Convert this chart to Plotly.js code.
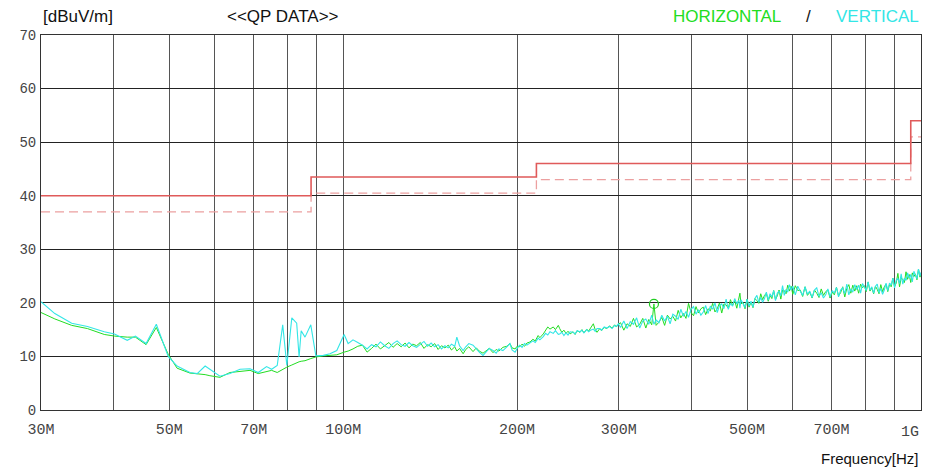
<!DOCTYPE html>
<html>
<head>
<meta charset="utf-8">
<script src="https://cdn.plot.ly/plotly-3.0.1.min.js"></script>
<style>
html,body{margin:0;padding:0;background:#fff;}
#chart{width:925px;height:472px;}
</style>
</head>
<body>
<div id="chart"></div>
<script>
// Frequencies in MHz
const freqMHz = [
 30, 31.7, 33.9, 36.1, 38.6, 40.2, 42.3, 43.7, 45.6, 47.5,
 49.8, 51.6, 54.3, 55.9, 57.7, 58.8, 61.2, 63.7, 66.3, 69.0,
 71.3, 73.7, 75.2, 76.9, 78.6, 79.9, 81.5, 83.1, 83.9, 84.6,
 85.9, 87.9, 89.7, 92.4, 94.9, 97.5, 100.4, 102.0,
 104, 106, 108, 110, 112, 114, 116, 118, 120, 122,
 124, 126, 128, 130, 132, 134, 136, 138, 140, 142,
 144, 146, 148, 150, 152, 154, 156, 157.3, 159, 161.3,
 163, 165, 167.8, 170, 172, 174.6, 177, 179, 181.7, 184,
 186, 189, 192, 194.4, 196, 198.4, 200,
 202, 204, 206, 208, 210.6, 213, 215, 217.5, 219, 222,
 224, 226, 228, 231, 233, 235.7, 237, 239, 241, 243,
 245, 247, 250, 252, 254, 257, 259, 261, 264, 266,
 268, 271, 273, 275, 278, 280, 283, 286, 289, 292,
 295, 297, 299.5,
 302, 306, 310, 314, 318, 322, 326, 330, 334, 338,
 342, 345, 348, 352, 356, 360, 364, 368, 372, 376,
 380, 384, 388, 392, 396, 400, 404, 408, 412, 416,
 420, 424, 428, 432, 436, 440, 444, 448, 452, 456,
 460, 464, 468, 472, 476, 480, 484, 486, 488, 492,
 496, 500, 504, 508, 512, 516, 520, 524, 528, 532,
 536, 540, 544, 548, 552, 556, 560, 564, 568, 572,
 576, 580, 584, 588, 592, 596, 600, 606, 612, 618,
 624, 630, 636, 642, 648, 654, 660, 666, 672, 678,
 684, 690, 696, 702, 708, 714, 720, 726, 732, 738,
 744, 750, 756, 762, 768, 774, 780, 786, 792, 798,
 804, 810, 816, 822, 828, 834, 840, 846, 852, 858,
 864, 870, 876, 882, 888, 894, 900, 906, 912, 918,
 924, 930, 936, 942, 948, 954, 960, 966, 972, 978,
 984, 990, 996, 1000
];
// HORIZONTAL (green) levels, dBuV/m
const horizontal = [
 18.2, 17.0, 15.8, 15.2, 14.1, 13.8, 13.6, 13.6, 12.2, 15.4,
 10.4, 7.8, 6.9, 6.8, 6.6, 6.4, 6.1, 7.0, 7.2, 7.4,
 6.8, 7.2, 7.4, 7.0, 7.6, 8.0, 8.4, 8.9, 9.0, 9.1,
 9.2, 9.6, 9.9, 10.1, 10.2, 10.3, 10.8, 11.0,
 11.4, 11.9, 12.1, 10.8, 11.5, 12.3, 11.4, 12.0, 12.6, 11.7,
 12.4, 11.8, 12.5, 11.6, 12.3, 12.0, 12.6, 11.5, 12.2, 11.8,
 12.4, 11.3, 12.0, 11.6, 12.1, 11.2, 11.8, 11.0, 11.5, 10.5,
 11.3, 11.8, 10.9, 11.6, 11.0, 10.6, 11.1, 11.5, 10.7, 11.3,
 11.0, 11.7, 11.9, 12.4, 11.6, 11.4, 11.9,
 11.8, 12.3, 11.9, 12.5, 12.7, 13.2, 12.9, 13.9, 13.5, 14.2,
 14.8, 15.5, 15.1, 15.5, 15.0, 15.8, 15.2, 14.5, 14.9, 14.3,
 14.7, 14.2, 14.6, 14.1, 14.8, 14.5, 15.0, 14.4, 15.1, 14.7,
 15.3, 16.1, 15.0, 14.5, 15.2, 14.8, 15.4, 15.2, 15.7, 15.3,
 15.9, 15.5, 16.0,
 16.3, 14.9, 16.1, 15.6, 17.1, 15.5, 16.0, 17.1, 15.3, 16.9,
 15.9, 19.8, 15.8, 16.4, 17.3, 15.8, 17.7, 17.0, 17.5, 16.6,
 18.6, 17.2, 18.0, 17.1, 19.9, 18.2, 17.6, 19.3, 18.1, 18.9,
 19.2, 17.8, 18.9, 18.5, 19.9, 18.3, 18.9, 20.0, 18.1, 19.8,
 19.6, 19.0, 20.6, 19.5, 20.4, 19.0, 20.7, 21.8, 19.8, 20.1,
 18.9, 20.7, 19.2, 20.1, 19.1, 20.8, 20.4, 19.9, 21.7, 20.6,
 21.4, 21.8, 20.3, 21.4, 20.8, 22.3, 20.6, 21.3, 22.4, 20.7,
 22.4, 22.3, 21.7, 23.3, 22.2, 23.1, 21.6, 23.2, 22.3, 22.4,
 21.2, 23.0, 21.4, 22.0, 20.9, 22.4, 21.8, 21.0, 22.6, 21.4,
 22.1, 22.4, 20.9, 22.0, 21.5, 22.9, 21.3, 21.9, 23.0, 21.1,
 22.7, 23.4, 21.8, 23.3, 22.2, 23.2, 21.8, 23.5, 22.8, 23.2,
 22.1, 23.9, 22.2, 22.8, 21.7, 23.1, 22.5, 21.7, 23.4, 22.1,
 23.0, 23.5, 22.1, 23.4, 23.0, 24.6, 23.0, 23.7, 25.5, 23.0,
 24.6, 24.4, 23.8, 25.8, 24.4, 25.3, 23.8, 25.6, 24.9, 25.4,
 24.3, 26.3, 24.8, 25.5
];
// VERTICAL (cyan) levels, dBuV/m
const vertical = [
 20.2, 18.0, 16.2, 15.6, 14.6, 14.2, 13.0, 13.8, 12.4, 16.0,
 10.0, 8.2, 7.0, 6.8, 8.2, 7.6, 6.3, 6.8, 7.6, 7.7,
 7.0, 8.1, 7.6, 8.3, 15.9, 8.3, 17.2, 16.2, 9.9, 14.8,
 13.6, 15.9, 10.1, 10.2, 10.5, 11.1, 14.1, 12.4,
 13.1, 12.6, 12.1, 11.4, 12.2, 11.8, 12.7, 12.0, 11.5, 12.4,
 12.9, 12.2, 11.9, 12.6, 12.0, 11.7, 12.3, 12.8, 11.9, 12.5,
 11.8, 12.2, 11.4, 12.0, 11.6, 12.3, 11.9, 13.6, 12.0, 11.1,
 11.8, 12.4, 12.1, 11.3, 10.8, 10.2, 11.0, 11.5, 11.1, 10.6,
 11.4, 11.1, 11.8, 12.4, 11.2, 10.8, 11.5,
 12.1, 11.7, 12.4, 12.1, 12.6, 12.9, 12.6, 13.4, 13.1, 13.7,
 14.3, 14.0, 14.6, 14.3, 14.8, 14.1, 14.2, 14.5, 13.9, 14.4,
 14.0, 14.6, 14.5, 14.2, 14.8, 14.6, 14.9, 14.4, 15.0, 14.6,
 14.9, 15.1, 14.7, 15.2, 15.2, 14.9, 15.5, 15.3, 15.6, 15.2,
 15.8, 15.6, 16.1,
 15.4, 16.6, 15.2, 16.5, 16.0, 17.2, 15.3, 16.6, 17.0, 16.0,
 17.7, 16.0, 16.8, 16.3, 17.7, 16.6, 17.5, 16.1, 17.9, 17.5,
 16.9, 18.8, 17.5, 18.4, 17.3, 18.8, 19.3, 17.9, 18.7, 17.7,
 18.3, 19.5, 18.0, 19.4, 18.8, 20.0, 18.2, 19.5, 19.8, 18.9,
 20.7, 18.8, 19.9, 19.4, 20.8, 19.8, 20.5, 19.0, 20.6, 19.9,
 19.1, 20.7, 19.4, 20.3, 19.2, 20.8, 21.4, 20.1, 21.0, 20.1,
 20.8, 22.0, 20.5, 21.7, 21.1, 22.3, 20.4, 21.8, 22.2, 21.3,
 23.2, 21.4, 22.5, 22.0, 23.4, 22.4, 23.1, 21.5, 23.1, 22.2,
 21.4, 23.0, 21.6, 22.2, 21.0, 22.4, 22.8, 21.2, 21.9, 20.9,
 21.5, 22.6, 21.1, 22.3, 21.8, 22.9, 21.1, 22.4, 22.8, 21.7,
 23.5, 21.5, 22.6, 22.0, 23.4, 22.5, 23.3, 21.8, 23.6, 23.0,
 22.3, 23.9, 22.4, 23.0, 21.8, 23.1, 23.5, 21.9, 22.7, 21.6,
 22.4, 23.7, 22.3, 23.7, 23.3, 24.6, 22.8, 24.2, 24.6, 23.6,
 25.4, 23.5, 24.6, 24.2, 25.6, 24.6, 25.3, 23.9, 25.9, 25.2,
 24.5, 26.3, 25.0, 25.7
];
// Limit lines
const limitFreqMHz = [30, 88, 216, 960, 1000];
const qpLimit = [40, 43.5, 46, 54, 54];
const qpMargin = [37, 40.5, 43, 51, 51];
// QP marker
const qpMarkerFreq = [345];
const qpMarkerLevel = [19.8];
// Axis ticks (the last label "1G" is placed flush with the right edge below)
const xTickVals = [30, 40, 50, 60, 70, 80, 90, 100, 200, 300, 400, 500, 600, 700, 800, 900, 1000];
const xTickText = ['30M', '', '50M', '', '70M', '', '', '100M', '200M', '300M', '', '500M', '', '700M', '', '', ''];
const lastTickLabel = '1G';
const yTickVals = [0, 10, 20, 30, 40, 50, 60, 70];

const tickFont = {family: 'Liberation Mono, Courier New, monospace', size: 15, color: '#444444'};
const headFont = (c) => ({family: 'Liberation Sans, Arial, sans-serif', size: 17, color: c});

const traces = [
  {x: limitFreqMHz, y: qpMargin, mode: 'lines', line: {shape: 'hv', color: '#eca0a0', width: 1.3, dash: '9px,5px'}, hoverinfo: 'skip'},
  {x: limitFreqMHz, y: qpLimit, mode: 'lines', line: {shape: 'hv', color: '#e05a5a', width: 1.6}, hoverinfo: 'skip'},
  {x: freqMHz, y: horizontal, mode: 'lines', line: {color: '#22dd22', width: 1}},
  {x: freqMHz, y: vertical, mode: 'lines', line: {color: '#33e6e6', width: 1.1}},
  {x: qpMarkerFreq, y: qpMarkerLevel, mode: 'markers', marker: {symbol: 'circle-open', size: 9, color: '#22cc22', line: {width: 1.2}}}
];

const layout = {
  width: 925, height: 472,
  margin: {l: 41, r: 4, t: 35, b: 62},
  paper_bgcolor: '#ffffff', plot_bgcolor: '#ffffff',
  showlegend: false,
  xaxis: {
    type: 'log',
    range: [Math.log10(30), Math.log10(1000)],
    tickmode: 'array', tickvals: xTickVals, ticktext: xTickText,
    showgrid: true, gridcolor: '#555555', gridwidth: 1,
    showline: true, linecolor: '#333333', linewidth: 1, mirror: true,
    ticks: '', ticklabelstandoff: 5,
    tickfont: tickFont,
    zeroline: false
  },
  yaxis: {
    range: [0, 70],
    tickmode: 'array', tickvals: yTickVals,
    showgrid: true, gridcolor: '#222222', gridwidth: 1,
    showline: true, linecolor: '#333333', linewidth: 1, mirror: true,
    ticks: '', ticklabelstandoff: 1,
    tickfont: {family: 'Liberation Mono, Courier New, monospace', size: 14, color: '#444444'},
    zeroline: false
  },
  annotations: [
    {text: '[dBuV/m]', xref: 'paper', yref: 'paper', x: 0.0, y: 1, xanchor: 'left', yanchor: 'bottom', yshift: 7, showarrow: false, font: headFont('#111111')},
    {text: '&lt;&lt;QP DATA&gt;&gt;', xref: 'paper', yref: 'paper', x: 0.275, y: 1, xanchor: 'center', yanchor: 'bottom', yshift: 7, showarrow: false, font: headFont('#111111')},
    {text: 'HORIZONTAL', xref: 'paper', yref: 'paper', x: 0.843, y: 1, xanchor: 'right', yanchor: 'bottom', yshift: 7, showarrow: false, font: headFont('#22dd22')},
    {text: '/', xref: 'paper', yref: 'paper', x: 0.872, y: 1, xanchor: 'center', yanchor: 'bottom', yshift: 7, showarrow: false, font: headFont('#111111')},
    {text: 'VERTICAL', xref: 'paper', yref: 'paper', x: 1.0, y: 1, xanchor: 'right', yanchor: 'bottom', yshift: 7, showarrow: false, font: headFont('#33e6e6')},
    {text: lastTickLabel, xref: 'paper', yref: 'paper', x: 1.0, y: 0, xanchor: 'right', yanchor: 'top', yshift: -12, xshift: 0, showarrow: false, font: tickFont},
    {text: 'Frequency[Hz]', xref: 'paper', yref: 'paper', x: 1.0, y: 0, xanchor: 'right', yanchor: 'top', yshift: -38, showarrow: false,
     font: {family: 'Liberation Sans, Arial, sans-serif', size: 15, color: '#111111'}}
  ]
};

Plotly.newPlot('chart', traces, layout, {staticPlot: true, displayModeBar: false});
</script>
</body>
</html>
